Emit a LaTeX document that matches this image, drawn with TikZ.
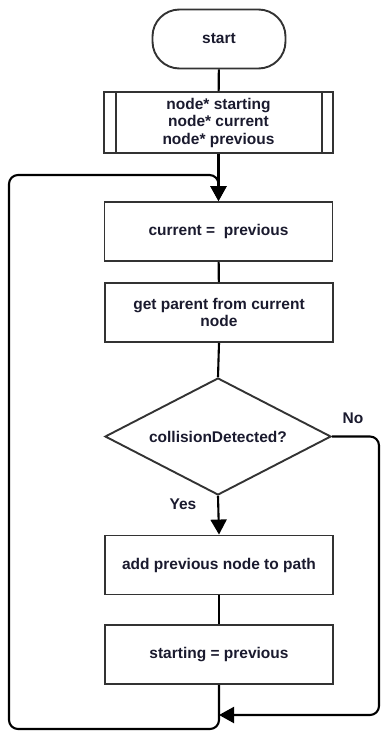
\documentclass[tikz,border=0pt]{standalone}
\usepackage{fontspec}
\setmainfont{Liberation Sans}
\usetikzlibrary{shapes.geometric,arrows.meta}
\definecolor{boxgray}{HTML}{333333}
\definecolor{txt}{HTML}{1A1A2E}
\begin{document}
\begin{tikzpicture}[x=1pt,y=-1pt,
  lbl/.style={font=\fontsize{15.5}{17.5}\selectfont\bfseries, text=txt},
  box/.style={lbl, draw=boxgray, line width=1.9pt, rectangle, minimum width=228pt, minimum height=59pt, inner sep=0pt, align=center},
  term/.style={box, minimum width=133pt, minimum height=59pt, rounded corners=27pt},
  decision/.style={lbl, draw=boxgray, line width=1.9pt, diamond, aspect=1.93, minimum width=226pt, minimum height=117pt, inner sep=0pt},
  conn/.style={draw=black, line width=2.1pt},
  arr/.style={conn, -{Triangle[width=16pt,length=15pt]}}
]
\useasboundingbox (0,0) rectangle (382,731);

\node[term] (start) at (219,39) {start};
\node[box, minimum width=229pt, minimum height=61pt] (decl) at (218.5,122.5) {node* starting\\node* current\\node* previous};
\draw[boxgray, line width=1.9pt] ([xshift=13pt]decl.north west) -- ([xshift=13pt]decl.south west);
\draw[boxgray, line width=1.9pt] ([xshift=-12pt]decl.north east) -- ([xshift=-12pt]decl.south east);
\node[box] (cur) at (218.5,231.5) {current =~~previous};
\node[box] (parent) at (219,312.5) {get parent from current\\node};
\node[decision] (coll) at (218,436.5) {collisionDetected?};
\node[box] (add) at (219,565) {add previous node to path};
\node[box] (startprev) at (219,654.5) {starting = previous};

\node[lbl] (yes) at (183,504) {Yes};
\node[lbl] (no) at (353,418) {No};

\coordinate (bl) at (9,729);
\coordinate (tl) at (9,175);
\coordinate (nr) at (379,436.5);
\coordinate (join) at (219,715);

\draw[conn] (start) -- (decl);
\draw[arr] (decl.south -| cur.north) -- (cur.north);
\draw[conn] (cur) -- (parent);
\draw[conn] (parent.south) -- (coll.north);
\draw[arr] (coll.south) -- (add.north);
\draw[conn] (add) -- (startprev);
\draw[arr, rounded corners=9pt] (startprev.south) |- (bl) -- (tl) -| (cur.north);
\draw[arr, rounded corners=9pt] (coll.east) -- (nr) |- (join);
\end{tikzpicture}
\end{document}
